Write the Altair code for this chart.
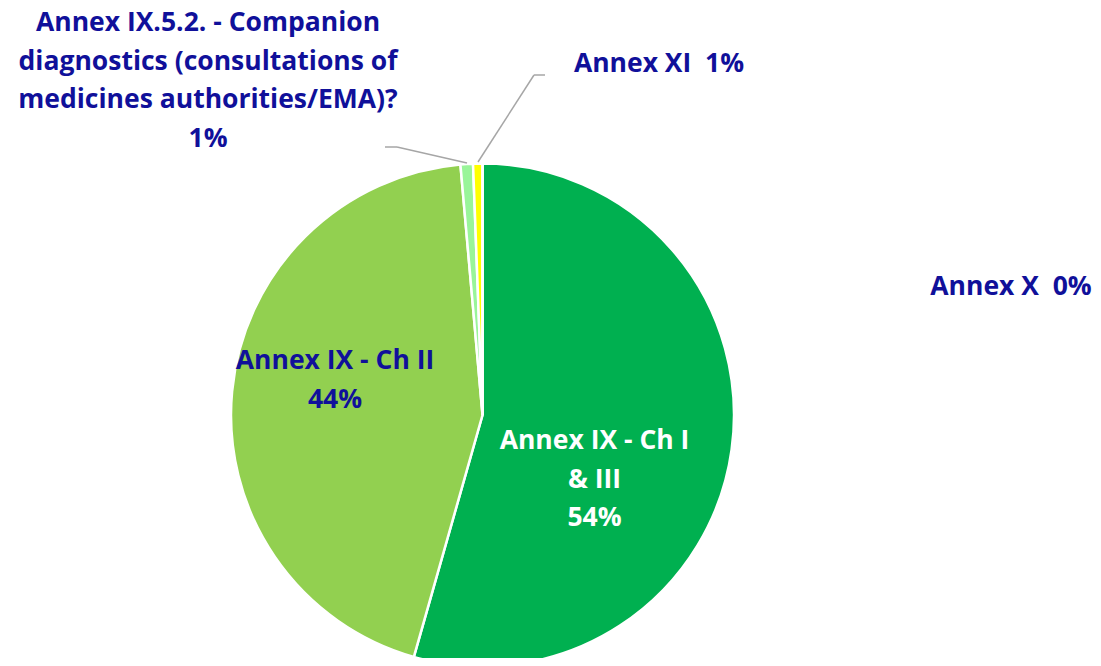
import altair as alt
import pandas as pd

categories = [
    "Annex IX - Ch I & III",
    "Annex IX - Ch II",
    "Annex IX.5.2. - Companion diagnostics (consultations of medicines authorities/EMA)?",
    "Annex XI",
    "Annex X",
]
shares = [54.4, 44.2, 0.8, 0.6, 0.0]
colors = ["#00B050", "#92D050", "#99F599", "#FFFF00", "#5B9BD5"]
order_idx = [0, 1, 2, 3, 4]

label_texts = [
    "Annex IX - Ch I\n& III\n54%",
    "Annex IX - Ch II\n44%",
    "Annex IX.5.2. - Companion\ndiagnostics (consultations of\nmedicines authorities/EMA)?\n1%",
    "Annex XI\u00a0 1%",
    "Annex X\u00a0 0%",
]

df = pd.DataFrame({"cat": categories, "share": shares, "idx": order_idx})

OFF = 8
CX, CY, R = 482.5 - OFF, 415 - OFF, 251.5

pie = alt.Chart(df).mark_arc(outerRadius=R, stroke="white", strokeWidth=2.5).encode(
    theta=alt.Theta("share:Q", stack=True),
    order=alt.Order("idx:Q"),
    color=alt.Color("cat:N", scale=alt.Scale(domain=categories, range=colors), legend=None),
    x=alt.value(CX),
    y=alt.value(CY),
)

FONT = "Open Sans"
FS = 26.5
LH = 38.7

def label(i, x, y, color):
    return alt.Chart(df.iloc[[i]]).mark_text(
        font=FONT, fontSize=FS, fontWeight="bold", align="center", baseline="alphabetic",
        lineBreak="\n", lineHeight=LH, color=color,
    ).encode(
        text=alt.value(label_texts[i]),
        x=alt.value(x - OFF),
        y=alt.value(y - OFF),
    )

BLUE = "#10109A"
labels = [
    label(0, 594.5, 449, "white"),
    label(1, 335, 369, BLUE),
    label(2, 208, 31, BLUE),
    label(3, 659, 72, BLUE),
    label(4, 1011, 295, BLUE),
]

def seg(x1, y1, x2, y2):
    return alt.Chart(df.iloc[[0]]).mark_rule(color="#A6A6A6", strokeWidth=1.5).encode(
        x=alt.value(x1 - OFF), y=alt.value(y1 - OFF),
        x2=alt.value(x2 - OFF), y2=alt.value(y2 - OFF),
    )

leaders = [
    seg(385, 147, 397, 147),
    seg(397, 147, 467, 163),
    seg(545, 75, 534, 75),
    seg(534, 75, 478, 162),
]

chart = alt.layer(pie, *leaders, *labels).properties(
    width=1085, height=650, padding=0,
    autosize=alt.AutoSizeParams(type="none"),
).configure_view(stroke=None)

chart.save("out.html", embed_options={"renderer": "svg", "actions": False})
